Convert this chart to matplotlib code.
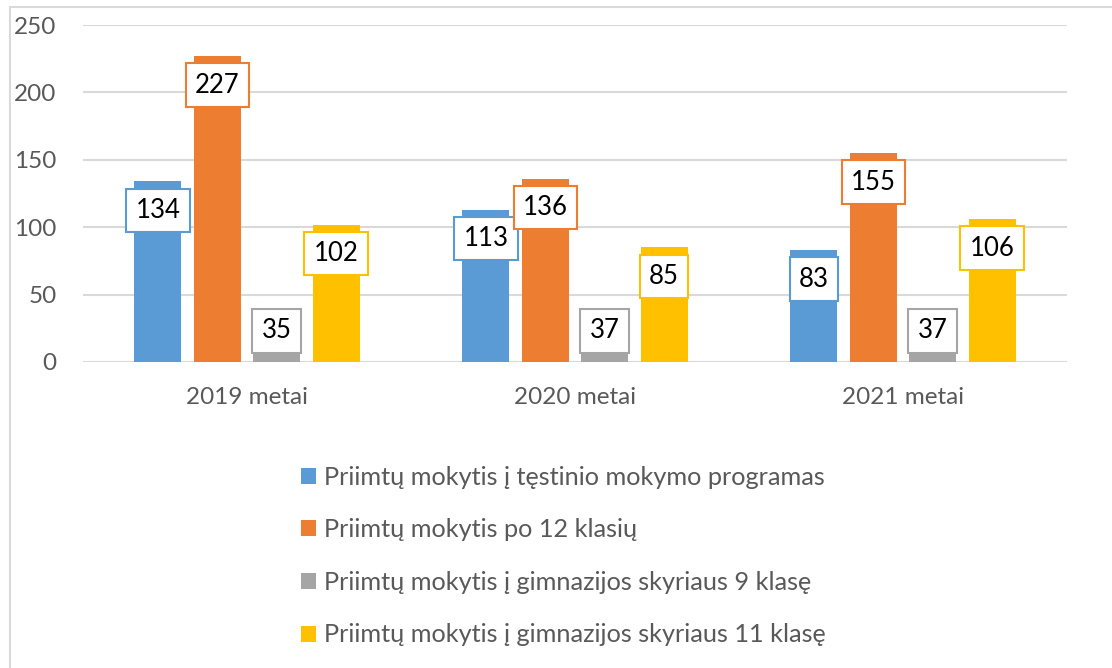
import numpy as np
import matplotlib.pyplot as plt
from matplotlib.patches import Rectangle, Patch

plt.rcParams['font.family'] = ['Lato', 'DejaVu Sans']

# Data
years = ['2019 metai', '2020 metai', '2021 metai']
series_names = [
    'Priimtų mokytis į tęstinio mokymo programas',
    'Priimtų mokytis po 12 klasių',
    'Priimtų mokytis į gimnazijos skyriaus 9 klasę',
    'Priimtų mokytis į gimnazijos skyriaus 11 klasę',
]
tęstinio = [134, 113, 83]
po_12 = [227, 136, 155]
klase_9 = [35, 37, 37]
klase_11 = [102, 85, 106]
colors = ['#5B9BD5', '#ED7D31', '#A5A5A5', '#FFC000']

W, H = 1112, 668
fig = plt.figure(figsize=(W / 100, H / 100), dpi=100)
ax = fig.add_axes([83 / W, 1 - 362 / H, (1067 - 83) / W, (362 - 25) / H])

# outer chart frame
fig.patches.append(Rectangle((10 / W, -0.1), 1.2, 1.1 - 7 / H,
                             transform=fig.transFigure, fill=False,
                             edgecolor='#D9D9D9', linewidth=1.5))

x = np.arange(len(years))
pitch = 0.181
width = 0.143
all_series = [tęstinio, po_12, klase_9, klase_11]

ax.set_xlim(-0.5, 2.5)
ax.set_ylim(0, 250)
px_per_unit = 337 / 250

for i, (vals, col) in enumerate(zip(all_series, colors)):
    xs = x + (i - 1.5) * pitch
    ax.bar(xs, vals, width=width, color=col, zorder=2)
    for xi, v in zip(xs, vals):
        # label box sits just under the bar top, but not below the base
        yc = max(v - 29 / px_per_unit, 31 / px_per_unit)
        ax.text(xi, yc, str(v), ha='center', va='center', fontsize=18.5,
                color='black', zorder=4,
                bbox=dict(boxstyle='square,pad=0.36', facecolor='white',
                          edgecolor=col, linewidth=1.5))

ax.set_yticks([0, 50, 100, 150, 200, 250])
ax.yaxis.grid(True, color='#D9D9D9', linewidth=1.5, zorder=0)
ax.set_axisbelow(True)
for s in ax.spines.values():
    s.set_visible(False)
ax.set_xticks(x)
ax.set_xticklabels(years)
ax.tick_params(axis='both', length=0, labelsize=17.5, colors='#595959')
ax.tick_params(axis='y', pad=19)
ax.tick_params(axis='x', pad=18)

handles = [Patch(facecolor=c, edgecolor='none') for c in colors]
leg = fig.legend(handles, series_names, loc='upper left',
                 bbox_to_anchor=(278 / W, 1 - 443 / H), frameon=False,
                 fontsize=18.2, labelcolor='#595959', handlelength=0.6,
                 handleheight=0.6, handletextpad=0.3, labelspacing=1.17)

fig.savefig('out.png', dpi=100)
